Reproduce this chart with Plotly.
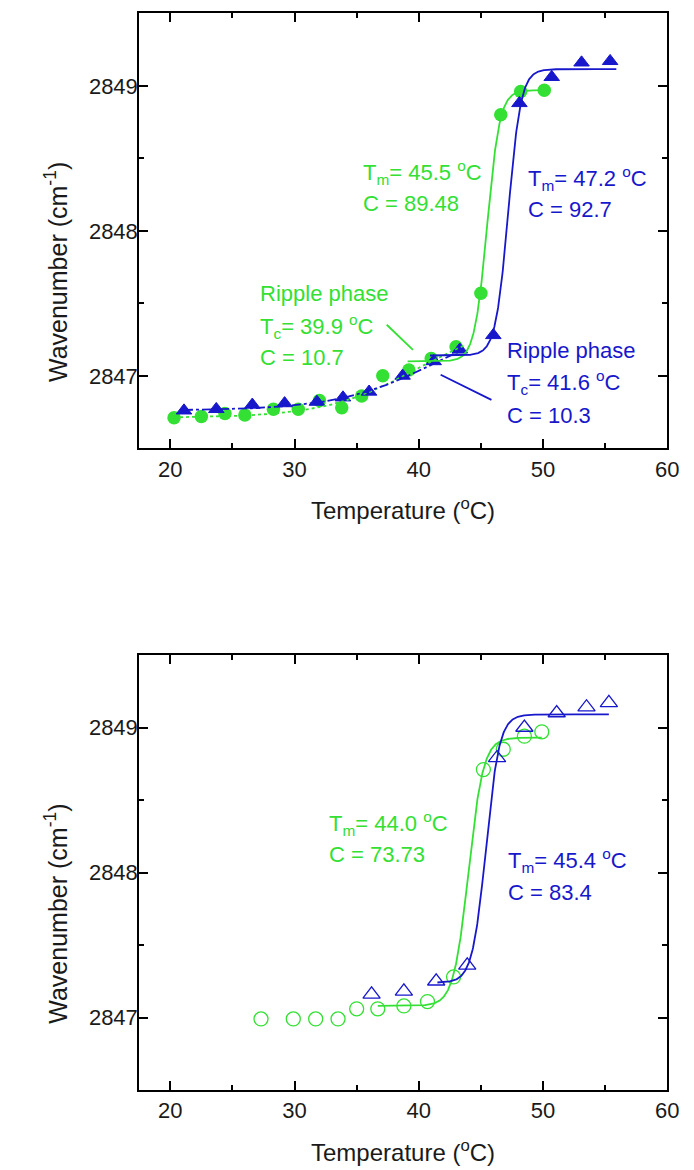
import numpy as np
import plotly.graph_objects as go
from plotly.subplots import make_subplots

# ---------------- measured data ----------------
# Upper panel (filled symbols)
top_green_T = [20.3, 22.5, 24.4, 26.0, 28.3, 30.3, 32.0, 33.8, 35.4, 37.1, 39.2, 41.0, 43.0, 45.0, 46.6, 48.2, 50.1]
top_green_W = [2846.71, 2846.72, 2846.74, 2846.73, 2846.77, 2846.77, 2846.83, 2846.78, 2846.86, 2847.00,
               2847.04, 2847.12, 2847.20, 2847.57, 2848.80, 2848.96, 2848.97]
top_blue_T = [21.1, 23.7, 26.6, 29.2, 31.8, 33.9, 36.0, 38.7, 41.2, 43.3, 46.0, 48.1, 50.7, 53.1, 55.4]
top_blue_W = [2846.76, 2846.77, 2846.80, 2846.81, 2846.82, 2846.85, 2846.89, 2847.00, 2847.10, 2847.18,
              2847.28, 2848.88, 2849.06, 2849.16, 2849.17]

# Lower panel (open symbols)
bot_green_T = [27.3, 29.9, 31.7, 33.5, 35.0, 36.7, 38.8, 40.7, 42.8, 45.2, 46.8, 48.5, 49.9]
bot_green_W = [2846.99, 2846.99, 2846.99, 2846.99, 2847.06, 2847.06, 2847.08, 2847.11, 2847.28,
               2848.71, 2848.85, 2848.94, 2848.97]
bot_blue_T = [36.2, 38.8, 41.4, 43.9, 46.3, 48.5, 51.1, 53.5, 55.3]
bot_blue_W = [2847.16, 2847.18, 2847.25, 2847.36, 2848.79, 2849.00, 2849.10, 2849.14, 2849.17]

# Sigmoidal fits: (T_mid, C, low, high, T_start, T_end)
fit_top_green_main = (45.5, 89.48, 2847.10, 2848.97, 39.1, 50.4)
fit_top_blue_main = (47.2, 92.7, 2847.14, 2849.115, 40.9, 55.9)
fit_top_green_ripple = (39.9, 10.7, 2846.71, 2847.39, 20.3, 43.6)
fit_top_blue_ripple = (41.6, 10.3, 2846.76, 2847.44, 21.1, 43.6)
fit_bot_green = (44.0, 73.73, 2847.08, 2848.93, 36.7, 49.9)
fit_bot_blue = (45.4, 83.4, 2847.24, 2849.09, 41.5, 55.3)

x_ticks = [20, 30, 40, 50, 60]
y_ticks = [2847, 2848, 2849]

GREEN = "#33e033"
BLUE = "#1717cc"
INK = "#1a1a1a"
FONT = "Liberation Sans, Arial, sans-serif"

W_PX, H_PX = 694, 1170


def fit_curve(p):
    tmid, c, lo, hi, t0, t1 = p
    t = np.linspace(t0, t1, 400)
    w = tmid / c
    return t, lo + (hi - lo) / (1.0 + np.exp(-(t - tmid) / w))


def px(x):
    return x / W_PX


def py(y):
    return 1 - y / H_PX


fig = make_subplots(rows=2, cols=1)

# ---- upper panel ----
fig.add_trace(go.Scatter(x=top_green_T, y=top_green_W, mode="markers",
                         marker=dict(symbol="circle", size=13.5, color=GREEN, line=dict(width=0))),
              row=1, col=1)
fig.add_trace(go.Scatter(x=top_blue_T, y=top_blue_W, mode="markers",
                         marker=dict(symbol="triangle-up", size=13.5, color=BLUE, line=dict(width=1, color=BLUE))),
              row=1, col=1)
for p, col, dash in [(fit_top_green_ripple, GREEN, "dot"), (fit_top_blue_ripple, BLUE, "dashdot"),
                     (fit_top_green_main, GREEN, "solid"), (fit_top_blue_main, BLUE, "solid")]:
    t, v = fit_curve(p)
    fig.add_trace(go.Scatter(x=t, y=v, mode="lines", line=dict(color=col, width=1.8, dash=dash)),
                  row=1, col=1)

# ---- lower panel ----
fig.add_trace(go.Scatter(x=bot_green_T, y=bot_green_W, mode="markers",
                         marker=dict(symbol="circle-open", size=14, color=GREEN, line=dict(width=1.3))),
              row=2, col=1)
fig.add_trace(go.Scatter(x=bot_blue_T, y=bot_blue_W, mode="markers",
                         marker=dict(symbol="triangle-up-open", size=15, color=BLUE, line=dict(width=1.3))),
              row=2, col=1)
for p, col in [(fit_bot_green, GREEN), (fit_bot_blue, BLUE)]:
    t, v = fit_curve(p)
    fig.add_trace(go.Scatter(x=t, y=v, mode="lines", line=dict(color=col, width=1.8)), row=2, col=1)

axis_common = dict(showline=True, linewidth=2, linecolor="black", mirror="ticks",
                   ticks="inside", ticklen=9, tickwidth=2, tickcolor="black",
                   showgrid=False, zeroline=False,
                   tickfont=dict(family=FONT, size=22, color=INK))

x_dom = [px(141.7), px(679)]
for r, dom in [(1, [py(448.3), py(13.3)]), (2, [py(1090), py(655)])]:
    fig.update_xaxes(range=[17.5, 60], tickvals=x_ticks, ticktext=[str(v) for v in x_ticks],
                     minor=dict(tickvals=[25, 35, 45, 55], ticks="inside", ticklen=5, tickwidth=2,
                                tickcolor="black"),
                     domain=x_dom, row=r, col=1, **axis_common)
    fig.update_yaxes(range=[2846.5, 2849.5], tickvals=y_ticks, ticktext=[str(v) for v in y_ticks],
                     minor=dict(tickvals=[2846.5, 2847.5, 2848.5], ticks="inside", ticklen=5, tickwidth=2,
                                tickcolor="black"),
                     ticklabelstandoff=-5, domain=dom, row=r, col=1, **axis_common)

annotations = []


def label(text, x, y, color, size=22, anchor="left", angle=0):
    annotations.append(dict(text=text, x=px(x), y=py(y), xref="paper", yref="paper",
                            xanchor=anchor, yanchor="middle", showarrow=False, textangle=angle,
                            font=dict(family=FONT, size=size, color=color)))


# axis titles
for off in (0, 641.7):
    label("Temperature (<sup>o</sup>C)", 410, 509 + off, INK, size=24, anchor="center")
    label("Wavenumber (cm<sup>-1</sup>)", 57, 272 + off, INK, size=25, anchor="center", angle=-90)

# upper panel fit parameters
label("T<sub>m</sub>= 45.5 <sup>o</sup>C", 367, 172, GREEN)
label("C = 89.48", 367, 203, GREEN)
label("T<sub>m</sub>= 47.2 <sup>o</sup>C", 535, 178, BLUE)
label("C = 92.7", 535, 209, BLUE)
label("Ripple phase", 263, 293, GREEN)
label("T<sub>c</sub>= 39.9 <sup>o</sup>C", 263, 326, GREEN)
label("C = 10.7", 263, 357, GREEN)
label("Ripple phase", 514, 350, BLUE)
label("T<sub>c</sub>= 41.6 <sup>o</sup>C", 514, 383, BLUE)
label("C = 10.3", 514, 415, BLUE)

# lower panel fit parameters
label("T<sub>m</sub>= 44.0 <sup>o</sup>C", 333, 823, GREEN)
label("C = 73.73", 333, 854, GREEN)
label("T<sub>m</sub>= 45.4 <sup>o</sup>C", 515, 860, BLUE)
label("C = 83.4", 515, 892, BLUE)

# pointer lines from the ripple-phase labels
shapes = [
    dict(type="line", xref="x", yref="y", x0=37.42, y0=2847.352, x1=39.53, y1=2847.179,
         line=dict(color=GREEN, width=1.8)),
    dict(type="line", xref="x", yref="y", x0=45.85, y0=2846.834, x1=41.76, y1=2847.007,
         line=dict(color=BLUE, width=1.8)),
]

fig.update_layout(width=W_PX, height=H_PX, margin=dict(l=0, r=0, t=0, b=0),
                  paper_bgcolor="white", plot_bgcolor="white", showlegend=False,
                  annotations=annotations, shapes=shapes)

fig.write_html("out.html")
